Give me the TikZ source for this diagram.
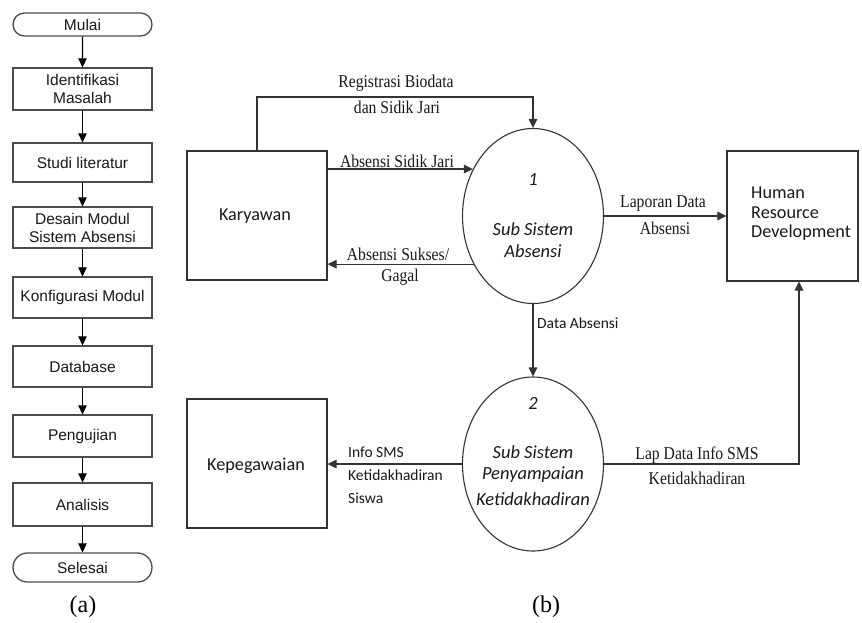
\documentclass[tikz,border=0pt]{standalone}
\usepackage{fontspec}
\setmainfont{Liberation Sans}
\newfontfamily\dfdsans{Carlito}
\newfontfamily\lblserif{Liberation Serif}[FakeStretch=0.87]
\newfontfamily\capserif{Liberation Serif}
\usetikzlibrary{arrows.meta,shapes.misc,shapes.geometric}
\begin{document}
\begin{tikzpicture}[x=1pt,y=-1pt,
  fcbox/.style={draw=black!70, line width=1.3pt, minimum width=139pt, inner sep=0pt, align=center,
    font=\fontsize{15.5}{18}\selectfont, text=black!90},
  fcterm/.style={fcbox, rounded rectangle},
  fcarr/.style={-{Triangle[length=9pt,width=8.5pt]}, line width=1.2pt, black},
  dfbox/.style={draw=black!80, line width=1.1pt, inner sep=0pt},
  proc/.style={ellipse, draw=black!80, line width=1.1pt, minimum width=141pt, minimum height=175pt, inner sep=0pt},
  dfarr/.style={-{Triangle[length=9pt,width=8.5pt]}, line width=1.1pt, black!80},
  seriflbl/.style={inner sep=0pt, text=black!90, font=\lblserif\fontsize{18}{22}\selectfont},
  sanslbl/.style={inner sep=0pt, text=black!90, font=\dfdsans\fontsize{15.5}{23}\selectfont},
  proctxt/.style={inner sep=0pt, text=black!90, font=\dfdsans\itshape\fontsize{18.5}{23}\selectfont},
  enttxt/.style={inner sep=0pt, text=black!90, font=\dfdsans\fontsize{18.2}{19.5}\selectfont},
  captxt/.style={inner sep=0pt, text=black, font=\capserif\fontsize{24}{28}\selectfont}
]
\useasboundingbox (0,0) rectangle (862,622);
\fill[white] (0,0) rectangle (862,622);

% ---------- (a) flowchart ----------
\node[fcterm, minimum height=23pt] (m0) at (82.5,24.5) {Mulai};
\node[fcbox, minimum height=42pt] (f1) at (82.5,89) {Identifikasi\\Masalah};
\node[fcbox, minimum height=39pt] (f2) at (82.5,162.5) {Studi literatur};
\node[fcbox, minimum height=41pt] (f3) at (82.5,227.5) {Desain Modul\\Sistem Absensi};
\node[fcbox, minimum height=41pt] (f4) at (82.5,297.5) {Konfigurasi Modul};
\node[fcbox, minimum height=41pt] (f5) at (82.5,366.5) {Database};
\node[fcbox, minimum height=42pt] (f6) at (82.5,436) {Pengujian};
\node[fcbox, minimum height=43pt] (f7) at (82.5,504.5) {Analisis};
\node[fcterm, minimum height=29pt] (m1) at (82.5,567.5) {Selesai};
\draw[fcarr] (m0) -- (f1);
\draw[fcarr] (f1) -- (f2);
\draw[fcarr] (f2) -- (f3);
\draw[fcarr] (f3) -- (f4);
\draw[fcarr] (f4) -- (f5);
\draw[fcarr] (f5) -- (f6);
\draw[fcarr] (f6) -- (f7);
\draw[fcarr] (f7) -- (m1);
\node[captxt] (capa) at (83,607) {(a)};

% ---------- (b) DFD ----------
\node[dfbox, minimum width=140pt, minimum height=129pt] (kary) at (257,215.5) {};
\node[enttxt] (karyt) at (255,216) {Karyawan};
\node[dfbox, minimum width=140pt, minimum height=129pt] (kep) at (257,463.5) {};
\node[enttxt] (kept) at (256,466) {Kepegawaian};
\node[dfbox, minimum width=131pt, minimum height=130pt] (hrd) at (792.5,216) {};
\node[enttxt, anchor=west, align=left] (hrdt) at (751,214) {Human\\Resource\\Development};

\node[proc] (e1) at (533,216) {};
\node[proctxt] (e1n) at (533,180) {1};
\node[proctxt] (e1a) at (533,229) {Sub Sistem};
\node[proctxt] (e1b) at (533,251) {Absensi};

\node[proc, minimum height=174pt] (e2) at (533,464) {};
\node[proctxt] (e2n) at (533,403) {2};
\node[proctxt] (e2a) at (533,452) {Sub Sistem};
\node[proctxt] (e2b) at (533,475) {Penyampaian};
\node[proctxt] (e2c) at (533,499) {Ketidakhadiran};

% connectors
\draw[dfarr] (kary.north) |- (e1.north |- 0,97) -- (e1.north);
\draw[dfarr] (kary.east |- e1.142.5) -- (e1.142.5);
\draw[dfarr] (e1.219.2) -- (kary.east |- e1.219.2);
\draw[dfarr] (e1.east) -- (hrd.west);
\draw[dfarr] (e1.south) -- (e2.north);
\draw[dfarr] (e2.west) -- (kep.east |- e2.west);
\draw[dfarr] (e2.east) -| ([xshift=6.5pt]hrd.south);

% labels
\node[seriflbl] (l1a) at (396,83) {Registrasi Biodata};
\node[seriflbl] (l1b) at (397,107) {dan Sidik Jari};
\node[seriflbl] (l2) at (397,161) {Absensi Sidik Jari};
\node[seriflbl] (l3a) at (398,254) {Absensi Sukses/};
\node[seriflbl] (l3b) at (400,277) {Gagal};
\node[seriflbl] (l4a) at (663,204) {Laporan Data};
\node[seriflbl] (l4b) at (665,228) {Absensi};
\node[seriflbl] (l5a) at (697,455) {Lap Data Info SMS};
\node[seriflbl] (l5b) at (697,478) {Ketidakhadiran};
\node[sanslbl, anchor=west] (l6) at (537,323) {Data Absensi};
\node[sanslbl, anchor=west] (l7a) at (348,452) {Info SMS};
\node[sanslbl, anchor=west] (l7b) at (348,475) {Ketidakhadiran};
\node[sanslbl, anchor=west] (l7c) at (348,498) {Siswa};

\node[captxt] (capb) at (546,607) {(b)};
\end{tikzpicture}
\end{document}
